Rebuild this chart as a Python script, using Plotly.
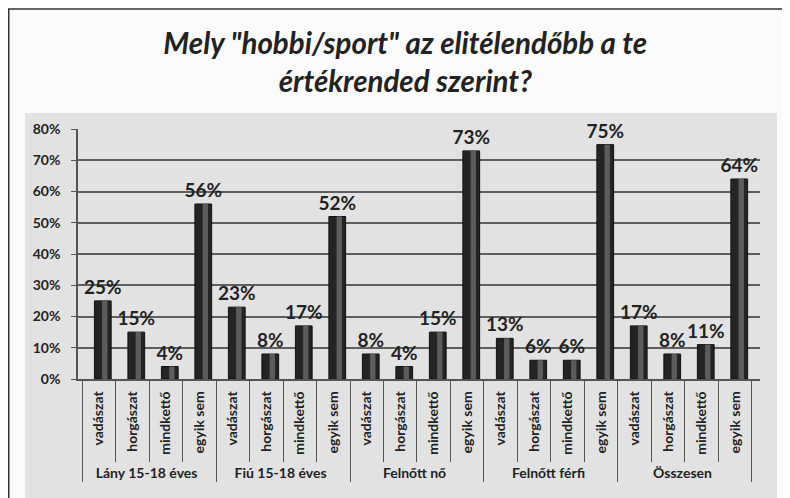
import plotly.graph_objects as go

groups = ["Lány 15-18 éves", "Fiú 15-18 éves", "Felnőtt nő", "Felnőtt férfi", "Összesen"]
subcats = ["vadászat", "horgászat", "mindkettő", "egyik sem"]
values = {
    "Lány 15-18 éves": [25, 15, 4, 56],
    "Fiú 15-18 éves": [23, 8, 17, 52],
    "Felnőtt nő": [8, 4, 15, 73],
    "Felnőtt férfi": [13, 6, 6, 75],
    "Összesen": [17, 8, 11, 64],
}
y_ticks = [0, 10, 20, 30, 40, 50, 60, 70, 80]
title_text = 'Mely "hobbi/sport" az elitélendőbb a te<br>értékrended szerint?'

xg, xs, yv = [], [], []
for g in groups:
    for s, v in zip(subcats, values[g]):
        xg.append(g)
        xs.append(s)
        yv.append(v)

FONT = "Lato"
W, H = 782, 490          # page body has an 8px margin
L, R, T, B = 70, 30, 121, 119
PW, PH = W - L - R, H - T - B

fig = go.Figure()
fig.add_trace(go.Bar(
    x=[xg, xs], y=yv, width=0.5, offset=-0.13,
    marker=dict(color="#242424", line=dict(color="#111111", width=1)),
    text=[f"{v}%" for v in yv], textposition="outside", constraintext="none",
    textfont=dict(family=FONT, size=19, color="#222222", weight="bold"),
    cliponaxis=False,
))
# lighter highlight strip for a cylinder look
fig.add_trace(go.Bar(
    x=[xg, xs], y=yv, width=0.16, offset=0.1,
    marker=dict(color="#5c5c5c", line=dict(width=0)),
    hoverinfo="skip",
))

fig.update_layout(
    width=W, height=H,
    paper_bgcolor="#fbfbfb", plot_bgcolor="#dedede",
    margin=dict(l=L, r=R, t=T, b=B),
    barmode="overlay",
    showlegend=False,
    title=dict(text=title_text, x=0.508, xanchor="center", y=1 - 46 / H, yanchor="top",
               font=dict(family=FONT, size=29.5, color="#222222", style="italic", weight="bold")),
    font=dict(family=FONT, color="#222222"),
)
fig.update_yaxes(
    range=[0, 80], tickvals=y_ticks, ticktext=[f"{t}%" for t in y_ticks],
    tickfont=dict(family=FONT, size=14, weight="bold"),
    showgrid=True, gridcolor="#5e5e5e", gridwidth=1.5,
    showline=True, linecolor="#555555", linewidth=1.5,
    ticks="outside", ticklen=5, tickcolor="#555555", zeroline=False,
    ticklabelstandoff=8, automargin=False,
)
fig.update_xaxes(
    type="multicategory",
    range=[-0.62, 19.74],
    tickangle=-90,
    tickfont=dict(family=FONT, size=14, weight="bold"),
    showdividers=True, dividercolor="#555555", dividerwidth=1,
    ticks="outside", ticklen=81, tickcolor="#555555",
    showline=True, linecolor="#555555", linewidth=1.5,
    ticklabelstandoff=5,
    automargin=False,
)
# textured chart area (grey) behind axis labels
fig.add_shape(type="rect", xref="paper", yref="paper", layer="below",
              x0=(17 - L) / PW, x1=(769 - L) / PW, y0=-(B + 2) / PH, y1=1 + (T - 105) / PH,
              line=dict(width=0), fillcolor="#e2e2e2")
# outer chart frame
fig.add_shape(type="rect", xref="paper", yref="paper",
              x0=(0.75 - L) / PW, x1=(W + 20 - L) / PW, y0=-(B + 20) / PH, y1=1 + (T - 1) / PH,
              line=dict(color="#333333", width=1.5), fillcolor="rgba(0,0,0,0)")

fig.write_html("out.html")
